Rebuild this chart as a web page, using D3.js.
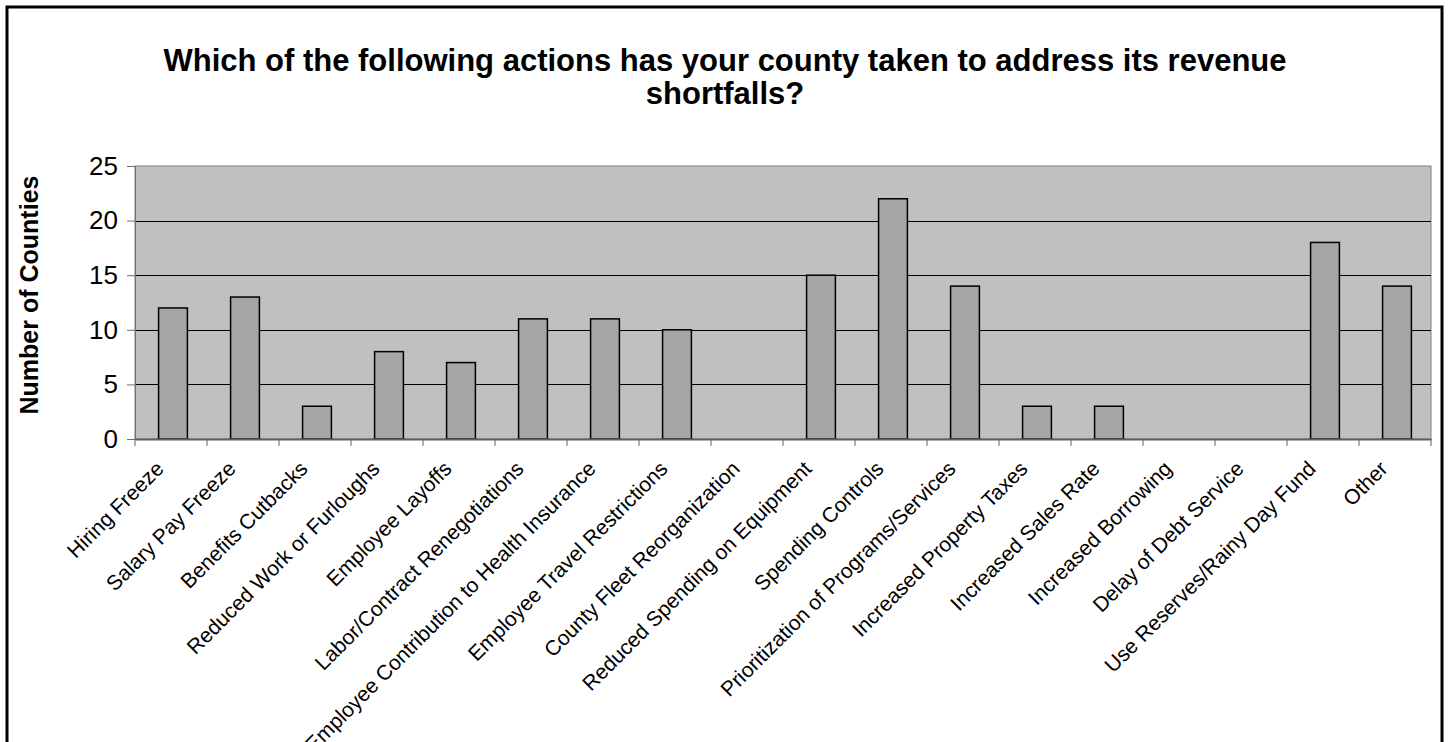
<!DOCTYPE html>
<html>
<head>
<meta charset="utf-8">
<script src="https://cdn.jsdelivr.net/npm/d3@7"></script>
<style>
  html, body { margin: 0; padding: 0; background: #fff; }
  svg { display: block; }
  text { font-family: Arial, "Liberation Sans", sans-serif; }
</style>
</head>
<body>
<svg id="chart" width="1449" height="742"></svg>
<script>
const titleLines = ["Which of the following actions has your county taken to address its revenue", "shortfalls?"];
const yAxisTitle = "Number of Counties";
const categories = [
  "Hiring Freeze", "Salary Pay Freeze", "Benefits Cutbacks", "Reduced Work or Furloughs",
  "Employee Layoffs", "Labor/Contract Renegotiations", "Employee Contribution to Health Insurance",
  "Employee Travel Restrictions", "County Fleet Reorganization", "Reduced Spending on Equipment",
  "Spending Controls", "Prioritization of Programs/Services", "Increased Property Taxes",
  "Increased Sales Rate", "Increased Borrowing", "Delay of Debt Service",
  "Use Reserves/Rainy Day Fund", "Other"
];
const values = [12, 13, 3, 8, 7, 11, 11, 10, 0, 15, 22, 14, 3, 3, 0, 0, 18, 14];
const yTicks = [0, 5, 10, 15, 20, 25];

const svg = d3.select("#chart");
const plot = { left: 135, right: 1431, top: 166, bottom: 439 };

// outer border
svg.append("rect").attr("x", 7).attr("y", 7).attr("width", 1435).attr("height", 760)
  .attr("fill", "#fff").attr("stroke", "#000").attr("stroke-width", 3);

const x = d3.scaleBand().domain(categories).range([plot.left + 2, plot.right + 2]).paddingInner(0.6).paddingOuter(0.3);
const xb = d3.scaleBand().domain(categories).range([plot.left, plot.right]).padding(0);
const y = d3.scaleLinear().domain([0, 25]).range([plot.bottom, plot.top]);

// plot background
svg.append("rect").attr("x", plot.left).attr("y", plot.top)
  .attr("width", plot.right - plot.left).attr("height", plot.bottom - plot.top)
  .attr("fill", "#C0C0C0").attr("stroke", "#808080").attr("stroke-width", 1);

// gridlines
svg.append("g").selectAll("line").data(yTicks.filter(t => t > 0 && t < 25)).join("line")
  .attr("x1", plot.left).attr("x2", plot.right)
  .attr("y1", d => Math.round(y(d)) + 0.5).attr("y2", d => Math.round(y(d)) + 0.5)
  .attr("stroke", "#000").attr("stroke-width", 1);

// bars
svg.append("g").selectAll("rect").data(values).join("rect")
  .attr("x", (d, i) => x(categories[i]))
  .attr("y", d => y(d))
  .attr("width", x.bandwidth())
  .attr("height", d => y(0) - y(d))
  .attr("fill", "#A6A6A6")
  .attr("stroke", "#000").attr("stroke-width", 1.5)
  .attr("display", d => d > 0 ? null : "none");

// y axis
const yAxis = d3.axisLeft(y).tickValues(yTicks).tickSize(8).tickPadding(9);
const gy = svg.append("g").attr("transform", `translate(${plot.left},0)`).call(yAxis);
gy.select(".domain").attr("stroke", "#707070");
gy.selectAll(".tick line").attr("stroke", "#707070");
gy.selectAll(".tick text").attr("font-size", 26).attr("fill", "#000")
  .attr("font-family", "Arial, 'Liberation Sans', sans-serif");

// x axis
const xAxis = d3.axisBottom(xb).tickSize(0).tickFormat("");
const gx = svg.append("g").attr("transform", `translate(0,${plot.bottom})`).call(xAxis);
gx.select(".domain").attr("stroke", "#606060").attr("stroke-width", 2);
// tick marks at category boundaries
const bounds = categories.map(c => xb(c)).concat([plot.right]);
svg.append("g").selectAll("line").data(bounds).join("line")
  .attr("x1", d => d).attr("x2", d => d)
  .attr("y1", plot.bottom).attr("y2", plot.bottom + 7)
  .attr("stroke", "#606060").attr("stroke-width", 1);

// x labels
svg.append("g").selectAll("text").data(categories).join("text")
  .attr("transform", d => `translate(${xb(d) + xb.bandwidth() / 2 - 6},${plot.bottom + 31}) rotate(-45)`)
  .attr("text-anchor", "end")
  .attr("font-size", 21)
  .attr("fill", "#000")
  .text(d => d);

// y axis title
svg.append("text")
  .attr("transform", `translate(38,295) rotate(-90)`)
  .attr("text-anchor", "middle")
  .attr("font-size", 25).attr("font-weight", "bold").attr("fill", "#000")
  .text(yAxisTitle);

// title
svg.append("g").selectAll("text").data(titleLines).join("text")
  .attr("x", 725).attr("y", (d, i) => 71 + i * 33)
  .attr("text-anchor", "middle")
  .attr("font-size", 31).attr("font-weight", "bold").attr("fill", "#000")
  .text(d => d);
</script>
</body>
</html>
